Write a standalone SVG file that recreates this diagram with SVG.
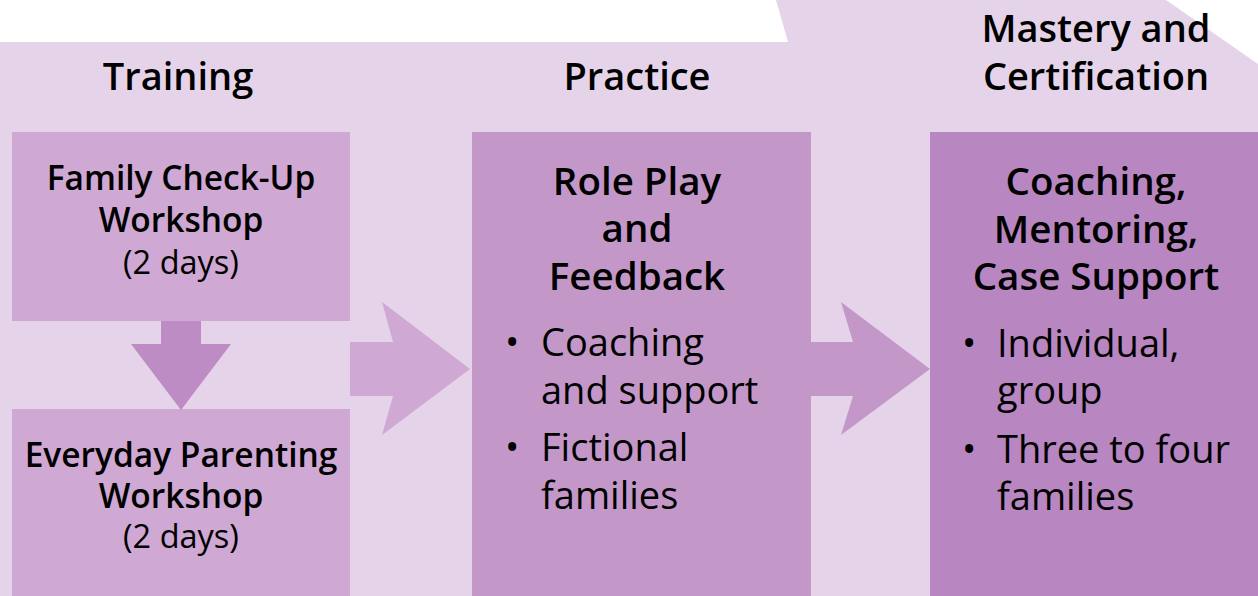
<svg xmlns="http://www.w3.org/2000/svg" width="1258" height="596" viewBox="0 0 1258 596">
<style>
text{font-family:"Open Sans","Noto Sans",sans-serif;fill:#000;}
.h{font-size:38px;font-weight:600;text-anchor:middle;}
.t{font-size:33.5px;font-weight:600;text-anchor:middle;}
.r{font-size:32.5px;font-weight:400;text-anchor:middle;}
.b{font-size:38.5px;font-weight:600;text-anchor:middle;}
.l{font-size:38px;font-weight:400;}
.c1{fill:#cfa8d3;}
.c2{fill:#c398c8;}
.c3{fill:#b886c0;}
.ca{fill:#be8cc4;}
</style>
<polygon points="0,42 788,42 776,0 1166,0 1258,64 1258,596 0,596" fill="#e5d4e9"/>
<g id="labels">
<text class="h" x="178" y="90">Training</text>
<text class="h" x="637" y="90">Practice</text>
<text class="h" x="1096" y="42">Mastery and</text>
<text class="h" x="1096" y="90">Certification</text>
</g>
<g id="node-fcu">
<rect class="c1" x="12" y="132" width="338" height="189"/>
<text class="t" x="181" y="190">Family Check-Up</text>
<text class="t" x="181" y="232">Workshop</text>
<text class="r" x="181" y="274">(2 days)</text>
</g>
<g id="node-epw">
<rect class="c1" x="12" y="409" width="338" height="187"/>
<text class="t" x="181" y="467">Everyday Parenting</text>
<text class="t" x="181" y="508">Workshop</text>
<text class="r" x="181" y="548">(2 days)</text>
</g>
<g id="node-practice">
<rect class="c2" x="472" y="132" width="339" height="464"/>
<text class="b" x="637" y="195">Role Play</text>
<text class="b" x="637" y="242">and</text>
<text class="b" x="637" y="290">Feedback</text>
<text class="l" x="505" y="356">•</text>
<text class="l" x="541" y="356">Coaching</text>
<text class="l" x="541" y="404">and support</text>
<text class="l" x="505" y="461">•</text>
<text class="l" x="541" y="461">Fictional</text>
<text class="l" x="541" y="509">families</text>
</g>
<g id="node-mastery">
<rect class="c3" x="930" y="132" width="328" height="464"/>
<text class="b" x="1096" y="195">Coaching,</text>
<text class="b" x="1096" y="243">Mentoring,</text>
<text class="b" x="1096" y="290">Case Support</text>
<text class="l" x="962" y="357">•</text>
<text class="l" x="997" y="357">Individual,</text>
<text class="l" x="997" y="404">group</text>
<text class="l" x="962" y="463">•</text>
<text class="l" x="997" y="463">Three to four</text>
<text class="l" x="997" y="510">families</text>
</g>
<g id="connectors">
<polygon class="ca" points="161,321 201,321 201,344 231,344 181,410 131,344 161,344"/>
<polygon class="c1" points="350,342 393,342 382,302 470,369 382,435 393,396 350,396"/>
<polygon class="c2" points="811,342 853,342 841,302 930,369 841,435 853,396 811,396"/>
</g>
</svg>
